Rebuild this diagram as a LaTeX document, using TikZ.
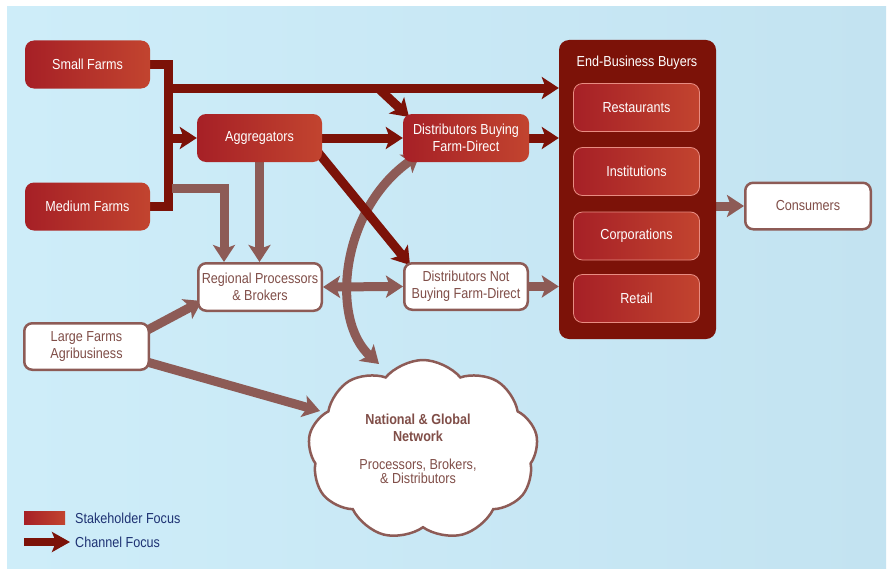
\documentclass[tikz,border=0pt]{standalone}
\usepackage{fontspec}
\setmainfont{Liberation Sans}[FakeStretch=0.87]
\usetikzlibrary{arrows.meta,shapes.symbols}
\definecolor{bgL}{RGB}{206,237,249}
\definecolor{bgR}{RGB}{195,227,241}
\definecolor{rdL}{RGB}{166,32,38}
\definecolor{rdR}{RGB}{194,68,47}
\definecolor{chred}{RGB}{124,18,8}
\definecolor{brn}{RGB}{141,91,86}
\definecolor{brtxt}{RGB}{128,78,72}
\definecolor{navy}{RGB}{30,50,115}
\definecolor{pinkln}{RGB}{232,140,130}
\pgfdeclarelayer{bg}
\pgfdeclarelayer{edges}
\pgfsetlayers{bg,edges,main}
\newcommand{\fs}{\fontsize{14.5}{17}\selectfont}
\tikzset{
  redbox/.style={rounded corners=9pt, left color=rdL, right color=rdR, text=white,
    minimum width=125pt, minimum height=48pt, align=center, font=\fs, inner sep=1pt},
  innerbox/.style={redbox, draw=pinkln, line width=0.8pt, minimum width=126pt, minimum height=48pt},
  whitebox/.style={rounded corners=8pt, fill=white, draw=brn, line width=2.5pt, text=brtxt,
    minimum width=123.5pt, minimum height=46.5pt, align=center, font=\fs, inner sep=1pt},
  bigtip/.tip={Stealth[length=17pt,width=22pt,inset=4pt]},
  chan/.style={draw=chred, line width=9pt, -bigtip},
  chanline/.style={draw=chred, line width=9pt},
  stake/.style={draw=brn, line width=9pt, -bigtip},
  stake2/.style={draw=brn, line width=9pt, bigtip-bigtip},
  lbl/.style={font=\fs, text=navy, anchor=west, inner sep=0pt},
}
\begin{document}
\begin{tikzpicture}[x=1pt,y=-1pt]
\useasboundingbox (0,0) rectangle (893,578);
\begin{pgfonlayer}{bg}
\shade[left color=bgL, right color=bgR] (7,7) rectangle (886,568);
\end{pgfonlayer}

% nodes
\node[redbox] (sf) at (87.5,64.5) {Small Farms};
\node[redbox] (mf) at (87.5,206.5) {Medium Farms};
\node[redbox] (agg) at (259.5,138) {Aggregators};
\node[redbox, minimum width=126pt] (dbf) at (466,138) {Distributors Buying\\Farm-Direct};
\node[rounded corners=10pt, fill=chred, minimum width=157pt, minimum height=299pt] (eb) at (637.5,189.5) {};
\node[font=\fs, text=white, inner sep=0pt] (ebt) at (637,63) {End-Business Buyers};
\node[innerbox] (rest) at (636.5,107.5) {Restaurants};
\node[innerbox] (inst) at (636.5,171.5) {Institutions};
\node[innerbox] (corp) at (636.5,236) {Corporations};
\node[innerbox] (ret) at (636.5,298.5) {Retail};
\node[whitebox, minimum width=125.5pt] (cons) at (808,206) {Consumers};
\node[whitebox] (dnb) at (466,286.5) {Distributors Not\\Buying Farm-Direct};
\node[whitebox, minimum height=47.5pt] (reg) at (260,287) {Regional Processors\\\& Brokers};
\node[whitebox, minimum width=124.5pt] (lf) at (86.5,346.5) {Large Farms\\Agribusiness};
\node[cloud, cloud puffs=9, cloud puff arc=100, aspect=1.28, fill=white, draw=brn,
  line width=2.5pt, minimum width=230pt, minimum height=180pt, shape border rotate=10] (cloud) at (423,450) {};
\node[font=\fs\bfseries, text=brtxt, align=center, inner sep=0pt] (ct1) at (418,428)
  {National \& Global\\Network};
\node[font=\fontsize{14.5}{13.5}\selectfont, text=brtxt, align=center, inner sep=0pt] (ct2) at (418,471.5)
  {Processors, Brokers,\\\& Distributors};

% legend
\node[left color=rdL, right color=rdR, minimum width=41pt, minimum height=13pt, inner sep=0pt] (leg1) at (44.5,517.5) {};
\node[lbl] (leg1t) at (75,518) {Stakeholder Focus};
\coordinate (leg2a) at (24,542);
\coordinate (leg2b) at (70,542);
\node[lbl] (leg2t) at (75,542) {Channel Focus};

% coordinates for connectors
\coordinate (b1) at (168,88);
\coordinate (b2) at (168,138);
\coordinate (m1) at (172,188);
\coordinate (r1) at (224,262);
\coordinate (t1) at (378,88);
\coordinate (t2) at (409,117);
\coordinate (a1) at (312,145);
\coordinate (d1) at (410,265);
\coordinate (l1) at (140,334);
\coordinate (l2) at (202,301);
\coordinate (l3) at (140,360);
\coordinate (c1) at (320,411);
\coordinate (cvtop) at (420,154);
\coordinate (cvbot) at (379,364);

\begin{pgfonlayer}{edges}
\draw[stake2] (cvtop) .. controls (340,210) and (330,320) .. (cvbot);
\draw[chanline] (sf.east) -- (168,64.5) -- (168,206.5) -- (mf.east);
\draw[chan] (b1) -- (b1 -| eb.west);
\draw[chan] (t1) -- (t2);
\draw[chan] (b2) -- (agg.west);
\draw[chan] (agg.east) -- (dbf.west);
\draw[chan] (dbf.east) -- (dbf.east -| eb.west);
\draw[chan] (a1) -- (d1);
\draw[stake] (m1) -| (r1);
\draw[stake] (agg.south) -- (agg.south |- reg.north);
\draw[stake] (l1) -- (l2);
\draw[stake] (l3) -- (c1);
\draw[stake2] (reg.east) -- (dnb.west);
\draw[stake] (dnb.east) -- (dnb.east -| eb.west);
\draw[stake] (eb.east |- cons.west) -- (cons.west);
\end{pgfonlayer}
\draw[chred, line width=8pt, -{Stealth[length=18pt,width=20pt,inset=4pt]}] (leg2a) -- (leg2b);
\end{tikzpicture}
\end{document}
